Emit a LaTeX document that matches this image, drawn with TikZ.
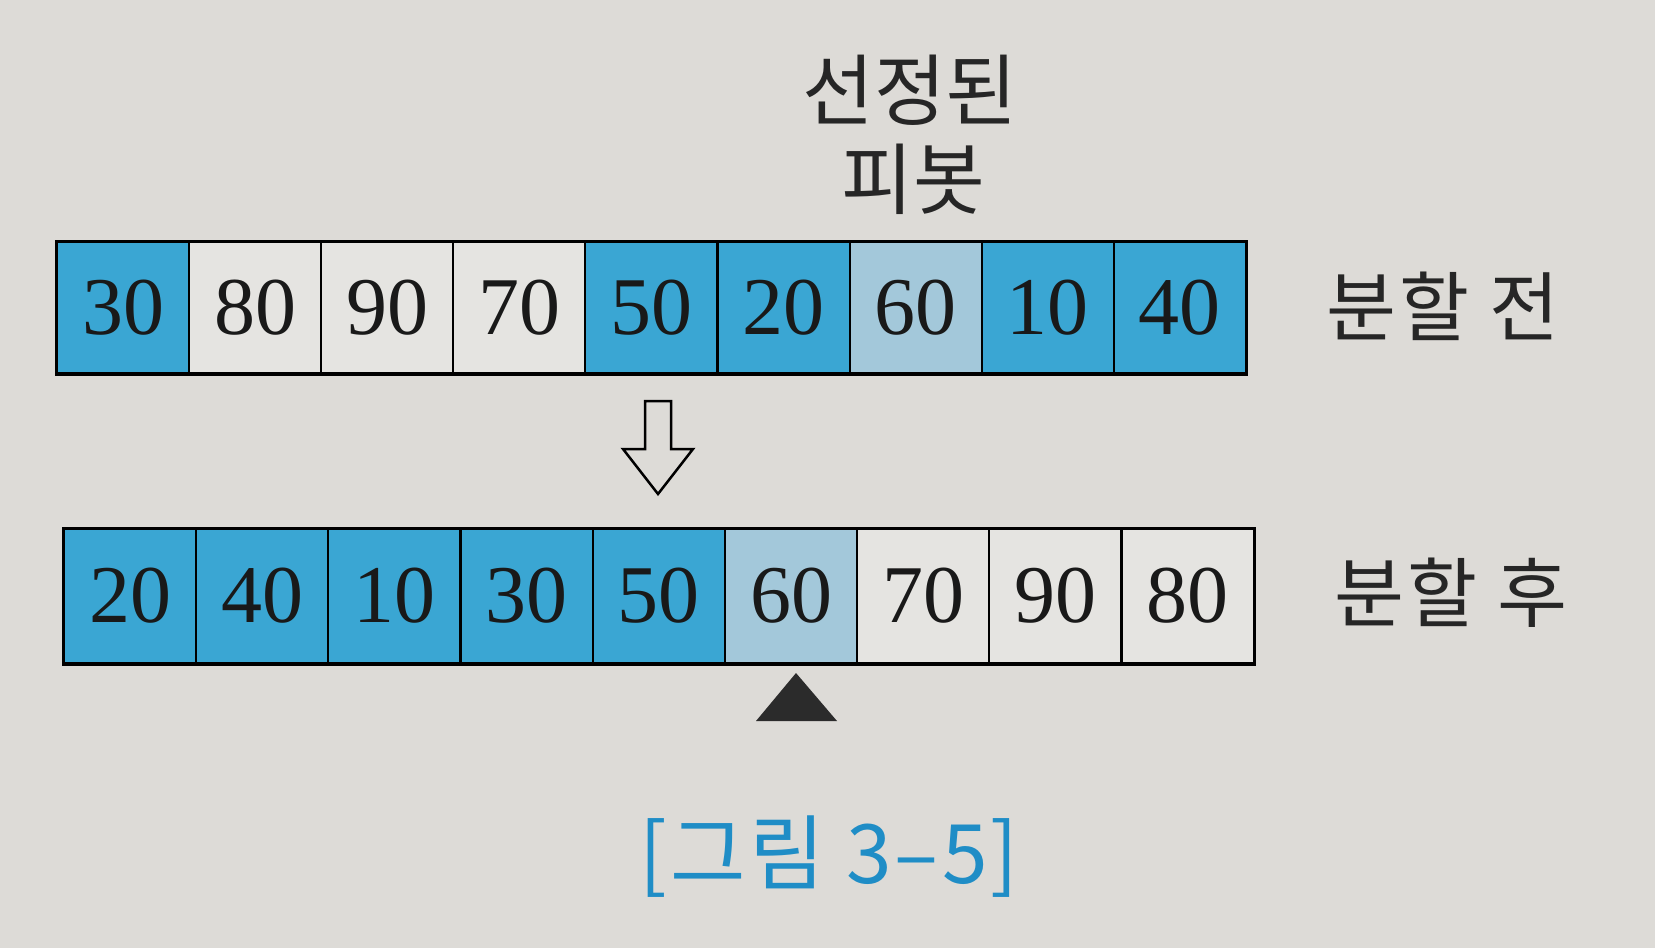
\documentclass[tikz,border=0pt]{standalone}
\usepackage{fontspec}
\setmainfont{Liberation Serif}
\newfontfamily\kr{Noto Sans CJK KR}
\newfontfamily\krsp[LetterSpace=4]{Noto Sans CJK KR}
\definecolor{paper}{HTML}{DDDBD7}
\definecolor{cwhite}{HTML}{E5E4E1}
\definecolor{cblue}{HTML}{3AA6D3}
\definecolor{clight}{HTML}{A3C8DA}
\definecolor{capblue}{HTML}{1F8DC6}
\definecolor{tri}{HTML}{2B2B2B}
\tikzset{
  cell/.style={draw=black, line width=2pt, minimum width=132pt, minimum height=131pt,
    inner sep=0pt, anchor=north west, font=\fontsize{82}{82}\selectfont, text=black!90},
  klabel/.style={font={\krsp\fontsize{76}{76}\selectfont}, text=black!85},
  ktitle/.style={font={\kr\fontsize{78}{78}\selectfont}, text=black!85},
  caption/.style={font={\krsp\fontsize{82}{82}\selectfont}, text=capblue},
  frame/.style={draw=black, line width=3pt}
}
\begin{document}
\begin{tikzpicture}[x=1pt,y=-1pt]
\fill[paper] (0,0) rectangle (1655,948);
\useasboundingbox (0,0) rectangle (1655,948);
% title
\node[ktitle] (sel) at (910,90) {선정된};
\node[ktitle] (piv) at (913,179) {피봇};
% top row
\foreach \v/\c [count=\i from 0] in {30/cblue,80/cwhite,90/cwhite,70/cwhite,50/cblue,20/cblue,60/clight,10/cblue,40/cblue}
  \node[cell, fill=\c] (t\i) at ({56+\i*132.1},241) {\v};
\draw[frame] (t0.north west) rectangle (t8.south east);
\node[klabel] (before) at (1443,306) {분할 전};
% hollow arrow
\draw[line width=2.5pt, line join=miter, fill=paper]
  (645,401) -- (671,401) -- (671,449) -- (693,449) -- (658,494) -- (623,449) -- (645,449) -- cycle;
% bottom row
\foreach \v/\c [count=\i from 0] in {20/cblue,40/cblue,10/cblue,30/cblue,50/cblue,60/clight,70/cwhite,90/cwhite,80/cwhite}
  \node[cell, fill=\c, minimum height=134pt] (b\i) at ({63+\i*132.2},528) {\v};
\draw[frame] (b0.north west) rectangle (b8.south east);
\node[klabel] (after) at (1451,593) {분할 후};
% pivot marker
\fill[tri] (796,673) -- (837,721) -- (756,721) -- cycle;
% caption
\node[caption] (cap) at (829,857) {[그림 3–5]};
\end{tikzpicture}
\end{document}
